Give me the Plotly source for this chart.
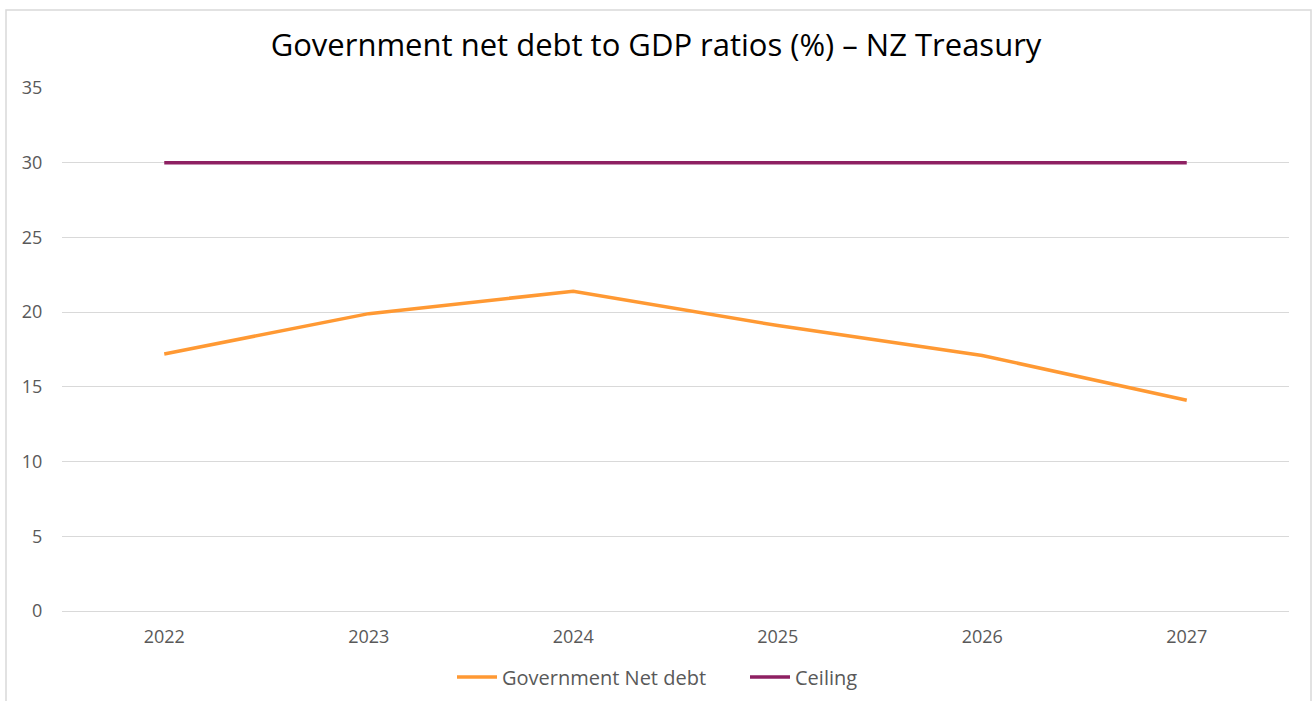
import plotly.graph_objects as go

years = ["2022", "2023", "2024", "2025", "2026", "2027"]
net_debt = [17.2, 19.9, 21.4, 19.1, 17.1, 14.1]
ceiling = [30, 30, 30, 30, 30, 30]

W, H = 1312, 701
L, R, T, B = 62, 23, 88, 90
pw, ph = W - L - R, H - T - B

def px_x(x):
    return (x - L) / pw

def px_y(y):
    return (H - B - y) / ph

font = "Open Sans, Noto Sans, sans-serif"

fig = go.Figure()
fig.add_trace(go.Scatter(x=years, y=net_debt, mode="lines", name="Government Net debt",
                         line=dict(color="#FF9933", width=3.5)))
fig.add_trace(go.Scatter(x=years, y=ceiling, mode="lines", name="Ceiling",
                         line=dict(color="#8E2062", width=3.5)))

fig.update_layout(
    width=W, height=H,
    margin=dict(l=L, r=R, t=T, b=B, pad=0),
    paper_bgcolor="white", plot_bgcolor="white",
    title=dict(text="Government net debt to GDP ratios (%) \u2013 NZ Treasury",
               x=0.5, xanchor="center", y=1 - 45 / H, yanchor="middle",
               font=dict(family=font, size=31, color="#000000")),
    xaxis=dict(type="category", range=[-0.5, 5.5], showgrid=False, showline=False,
               automargin=False,
               ticks="outside", ticklen=9, tickcolor="rgba(0,0,0,0)",
               tickfont=dict(family=font, size=18, color="#595959")),
    yaxis=dict(range=[0, 35], dtick=5, showgrid=True, gridcolor="#D9D9D9", gridwidth=1,
               automargin=False,
               zeroline=True, zerolinecolor="#D9D9D9", zerolinewidth=1, showline=False,
               ticks="outside", ticklen=15, tickcolor="rgba(0,0,0,0)",
               tickfont=dict(family=font, size=18, color="#595959")),
    legend=dict(orientation="h", x=px_x(452), xanchor="left",
                yref="container", y=1 - 677 / H, yanchor="middle",
                bgcolor="rgba(0,0,0,0)",
                font=dict(family=font, size=20, color="#595959"), itemwidth=40,
                entrywidth=238, entrywidthmode="pixels",
                traceorder="normal"),
    showlegend=True,
    shapes=[dict(type="rect", xref="paper", yref="paper",
                 x0=px_x(6), x1=px_x(1311), y0=px_y(710), y1=px_y(10),
                 line=dict(color="#D9D9D9", width=1.5), fillcolor="rgba(0,0,0,0)", layer="below")],
)

fig.write_html("out.html")
